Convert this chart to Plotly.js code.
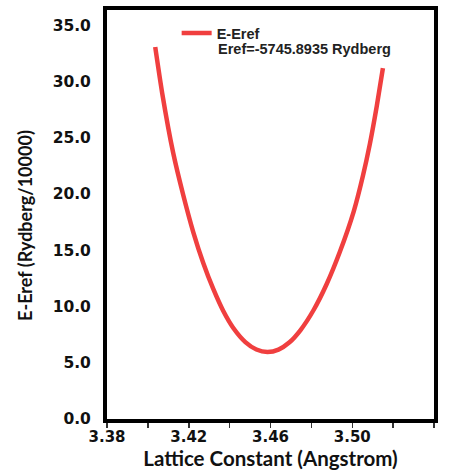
<!DOCTYPE html>
<html><head><meta charset="utf-8">
<script src="https://cdn.plot.ly/plotly-3.0.1.min.js"></script>
<style>html,body{margin:0;padding:0;background:#fff;}#plot{width:449px;height:470px;}</style>
</head><body><div id="plot"></div>
<script>
const latticeConstant = [3.4036, 3.4070, 3.4124, 3.4173, 3.4222, 3.4271, 3.4320, 3.4369, 3.4418, 3.4477, 3.4531, 3.4585,
  3.4639, 3.4693, 3.4747, 3.4811, 3.4875, 3.4939, 3.5007, 3.5052, 3.5086, 3.5120, 3.5150];
const energyRel = [33.07, 28.98, 23.64, 19.91, 16.62, 13.87, 11.56, 9.60, 8.09, 6.84, 6.18, 5.96,
  6.17, 6.82, 7.91, 9.69, 12.00, 14.84, 18.44, 21.60, 24.44, 27.82, 31.20];
const xTickVals = [3.38, 3.40, 3.42, 3.44, 3.46, 3.48, 3.50, 3.52, 3.54];
const xTickText = ['3.38', ' ', '3.42', ' ', '3.46', ' ', '3.50', ' ', '3.54'];
const yTickVals = [0, 5, 10, 15, 20, 25, 30, 35];
const yTickText = ['0.0', '5.0', '10.0', '15.0', '20.0', '25.0', '30.0', '35.0'];
const seriesName = 'E-Eref';
const refNote = 'Eref=-5745.8935 Rydberg';
const xTitle = 'Lattice Constant (Angstrom)';
const yTitle = 'E-Eref (Rydberg/10000)';

const tickFont = {family: 'DejaVu Sans', size: 15.5, color: '#111', weight: 'bold'};
const trace = {
  x: latticeConstant, y: energyRel, type: 'scatter', mode: 'lines',
  line: {color: '#f03f3f', width: 4.5, shape: 'spline', smoothing: 0.6},
  name: seriesName
};
const layout = {
  width: 449, height: 470,
  margin: {l: 107, r: 15, t: 10, b: 51},
  paper_bgcolor: '#fff', plot_bgcolor: '#fff',
  showlegend: true,
  legend: {x: 0.213, y: 0.983, xanchor: 'left', yanchor: 'top', bgcolor: 'rgba(0,0,0,0)',
    font: {family: 'Liberation Sans', size: 14.5, color: '#222', weight: 'bold'}},
  xaxis: {
    range: [3.38, 3.54], tickvals: xTickVals, ticktext: xTickText,
    showgrid: false, zeroline: false, showline: true, mirror: true,
    linecolor: '#000', linewidth: 4, ticks: 'outside', ticklen: 5, tickwidth: 1.5, tickcolor: '#333',
    ticklabelstandoff: -4,
    tickfont: {family: 'DejaVu Sans', size: 15, color: '#111', weight: 'bold'},
    title: {text: xTitle, font: {family: 'Lato', size: 20.5, color: '#111', weight: 'bold'}, standoff: 7}
  },
  yaxis: {
    range: [0, 36.36], tickvals: yTickVals, ticktext: yTickText,
    showgrid: false, zeroline: false, showline: true, mirror: true,
    linecolor: '#000', linewidth: 4, ticks: '', ticklabelstandoff: 9,
    tickfont: tickFont
  },
  annotations: [
    {text: refNote, xref: 'paper', yref: 'paper', x: 0.334, y: 0.905, xanchor: 'left', yanchor: 'middle',
     showarrow: false, font: {family: 'Liberation Sans', size: 14.5, color: '#222', weight: 'bold'}},
    {text: yTitle, xref: 'paper', yref: 'paper', x: -0.2515, y: 0.474, xanchor: 'center', yanchor: 'middle',
     textangle: -90, showarrow: false, font: {family: 'Lato', size: 18, color: '#111', weight: 'bold'}}
  ]
};
Plotly.newPlot('plot', [trace], layout, {displayModeBar: false, staticPlot: true});
</script></body></html>
